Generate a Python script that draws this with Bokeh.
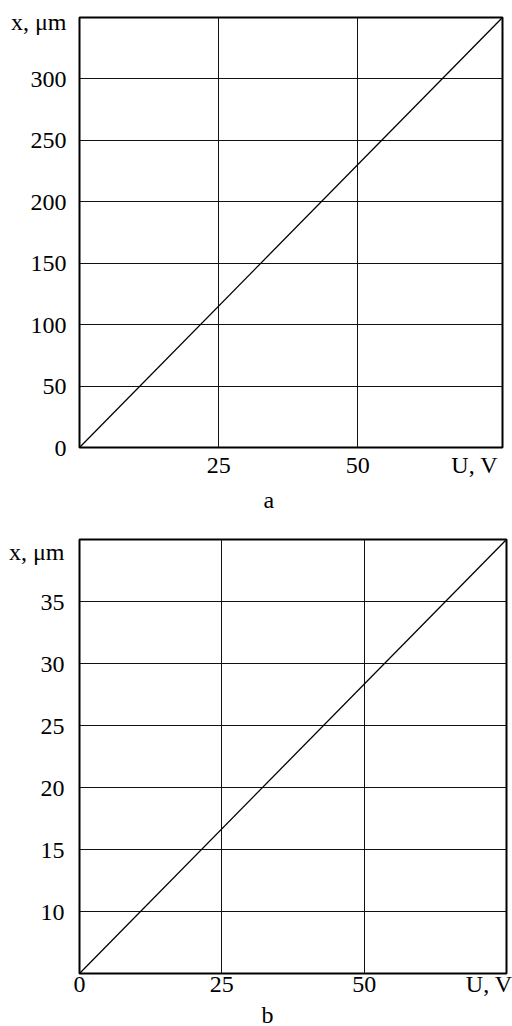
from bokeh.plotting import figure
from bokeh.models import FixedTicker, Title
from bokeh.layouts import column
from bokeh.embed import file_html
from bokeh.resources import INLINE

FONT = "Liberation Serif"
FS = "24px"

# ---- panel a data ----
u_a = [0, 76]
x_a = [0, 350]
xrange_a = (0, 76)
yrange_a = (0, 350)
xticks_a = [25, 50]
yticks_a = [50, 100, 150, 200, 250, 300]
ylab_tick_a = 346      # where the "x, μm" caption sits on the y axis
uvlab_tick_a = 71      # where the "U, V" caption sits on the x axis

# ---- panel b data ----
u_b = [0, 75]
x_b = [5, 40]
xrange_b = (0, 75)
yrange_b = (5, 40)
xticks_b = [0, 25, 50]
yticks_b = [10, 15, 20, 25, 30, 35]
ylab_tick_b = 39
uvlab_tick_b = 72

y_title = "x, μm"
x_title = "U, V"


def make(u, xv, xr, yr, xt, yt, ylab_t, uv_t, y_extra, fw, fh, bl, br, bt, bb,
         xstand, ystand, caption, cap_off, cap_stand):
    p = figure(frame_width=fw, frame_height=fh, x_range=xr, y_range=yr,
               output_backend="svg", toolbar_location=None,
               min_border_left=bl, min_border_right=br,
               min_border_top=bt, min_border_bottom=bb,
               background_fill_color="white", border_fill_color="white")
    p.outline_line_color = "black"
    p.outline_line_width = 2
    p.xaxis.ticker = FixedTicker(ticks=xt + [uv_t])
    p.xaxis.major_label_overrides = {uv_t: x_title}
    p.yaxis.ticker = FixedTicker(ticks=y_extra + yt + [ylab_t])
    p.yaxis.major_label_overrides = {ylab_t: y_title}
    for ax in (p.xaxis, p.yaxis):
        ax.axis_line_color = None
        ax.major_tick_line_color = None
        ax.minor_tick_line_color = None
        ax.major_tick_out = 0
        ax.major_tick_in = 0
        ax.major_label_text_font = FONT
        ax.major_label_text_font_size = FS
        ax.major_label_text_color = "black"
    p.yaxis.major_label_standoff = ystand
    p.xaxis.major_label_standoff = xstand
    p.xgrid.ticker = FixedTicker(ticks=xt)
    p.ygrid.ticker = FixedTicker(ticks=yt)
    for g in (p.xgrid, p.ygrid):
        g.grid_line_color = "#111111"
        g.grid_line_width = 1
        g.grid_line_alpha = 1
    p.line(u, xv, line_color="black", line_width=1.3)
    p.add_layout(Title(text=caption, align="left", offset=cap_off,
                       standoff=cap_stand, text_font=FONT,
                       text_font_size=FS, text_font_style="normal",
                       text_color="black"), "below")
    return p


pa = make(u_a, x_a, xrange_a, yrange_a, xticks_a, yticks_a,
          ylab_tick_a, uvlab_tick_a, [0],
          423, 430, 77, 12, 17, 71, 4, 13, "a", 184, 9)

pb = make(u_b, x_b, xrange_b, yrange_b, xticks_b, yticks_b,
          ylab_tick_b, uvlab_tick_b, [],
          427, 434, 79, 6, 21, 52, -3, 15, "b", 182, 0)

layout = column(pa, pb, spacing=0)
open("out.html", "w").write(file_html(layout, INLINE))
